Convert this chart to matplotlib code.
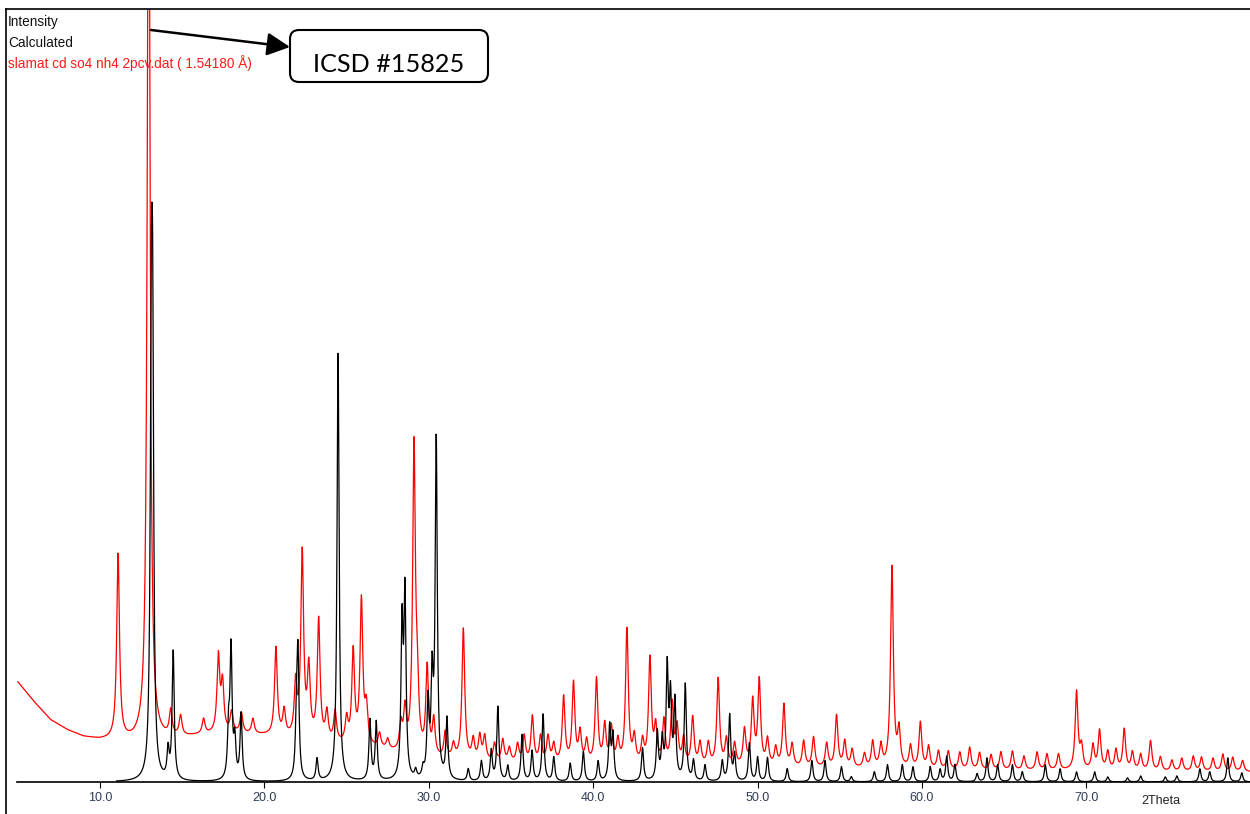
import numpy as np
import matplotlib
matplotlib.use('Agg')
import matplotlib.pyplot as plt
from matplotlib.patches import FancyBboxPatch, FancyArrowPatch

# peak positions (2theta) and heights
calc_pos = [13.12, 13.2, 14.14, 14.45, 17.82, 17.97, 18.2, 18.58, 21.95, 22.04,
            23.2, 24.48, 26.42, 26.8, 28.37, 28.55, 29.2, 29.65, 29.95, 30.2,
            30.45, 31.1, 32.4, 33.2, 33.8, 34.2, 34.8, 35.67, 36.28, 36.95,
            37.6, 38.6, 39.4, 40.3, 41.0, 41.2, 43.0, 43.9, 44.2, 44.5,
            44.7, 44.97, 45.6, 46.1, 46.8, 47.85, 48.3, 48.6, 49.5, 50.0,
            50.6, 51.8, 53.3, 54.1, 55.1, 55.7, 57.1, 57.9, 58.8, 59.45,
            60.5, 61.1, 61.5, 62.0, 63.35, 63.95, 64.6, 65.5, 66.1, 67.5,
            68.4, 69.4, 70.5, 71.3, 72.5, 73.3, 74.8, 75.5, 76.9, 77.5,
            78.6, 79.45]
calc_int = [368, 376, 28, 130, 48, 130, 38, 66, 48, 122,
            22, 428, 60, 58, 150, 182, 8, 9, 75, 95,
            342, 60, 12, 20, 30, 74, 15, 47, 30, 68,
            24, 18, 30, 20, 54, 45, 33, 48, 38, 110,
            80, 78, 96, 20, 16, 20, 66, 26, 38, 24,
            24, 13, 21, 21, 15, 5, 10, 17, 17, 15,
            15, 12, 25, 17, 8, 24, 17, 17, 10, 17,
            13, 10, 10, 5, 4, 6, 5, 6, 13, 10,
            24, 9]

meas_pos = [11.1, 12.96, 14.3, 14.9, 16.3, 17.2, 17.45, 18.0, 18.6, 19.3,
            20.7, 21.2, 21.9, 22.3, 22.7, 23.3, 23.8, 24.3, 25.0, 25.4,
            25.9, 26.2, 27.0, 27.5, 28.3, 28.55, 29.1, 29.3, 29.9, 30.3,
            31.0, 31.5, 32.1, 32.7, 33.1, 33.4, 34.0, 34.5, 34.9, 35.4,
            35.8, 36.3, 36.8, 37.25, 37.6, 38.2, 38.8, 39.2, 39.6, 40.2,
            40.7, 41.1, 41.5, 42.05, 42.5, 43.0, 43.45, 43.8, 44.3, 44.8,
            45.1, 45.5, 46.05, 46.5, 47.0, 47.6, 48.1, 48.6, 49.2, 49.7,
            50.1, 50.6, 51.1, 51.6, 52.1, 52.8, 53.4, 54.2, 54.8, 55.3,
            55.75, 56.5, 57.0, 57.5, 58.17, 58.6, 59.3, 59.9, 60.4, 61.0,
            61.6, 62.3, 62.9, 63.5, 64.2, 64.8, 65.5, 66.2, 67.0, 67.6,
            68.3, 69.4, 69.7, 70.4, 70.8, 71.3, 71.8, 72.3, 72.8, 73.3,
            73.9, 74.5, 75.2, 75.8, 76.5, 77.0, 77.7, 78.3, 78.9, 79.5]
meas_int = [185, 1000, 25, 20, 15, 76, 48, 20, 20, 15,
            88, 25, 52, 184, 68, 120, 28, 30, 24, 92,
            144, 36, 14, 10, 26, 40, 306, 52, 88, 36,
            26, 14, 131, 20, 24, 24, 18, 22, 14, 18,
            26, 46, 26, 26, 18, 66, 80, 30, 22, 85,
            38, 36, 22, 136, 26, 22, 106, 36, 43, 60,
            36, 26, 48, 22, 22, 87, 26, 22, 36, 64,
            85, 26, 18, 62, 22, 26, 30, 24, 52, 26,
            18, 14, 26, 22, 203, 36, 22, 46, 22, 18,
            18, 17, 22, 17, 15, 18, 19, 14, 18, 16,
            16, 78, 22, 24, 39, 18, 20, 41, 18, 16,
            30, 14, 11, 13, 15, 14, 13, 17, 14, 11]

# measured background level at a few angles
bg_pos = [5, 6, 7, 8, 9, 10, 12, 14, 16, 18, 20, 22, 25, 27, 28, 30,
          35, 40, 45, 50, 55, 60, 65, 70, 75, 80]
bg_int = [100, 80, 62, 52, 45, 42, 40, 42, 46, 48, 46, 42, 36, 32, 28, 22,
          18, 16, 15, 14, 13, 12, 11, 11, 10, 10]

ticks = [10, 20, 30, 40, 50, 60, 70]


def profile(x, pos, amp, hw):
    p = np.asarray(pos)[:, None]
    a = np.asarray(amp)[:, None]
    return (a * hw**2 / (hw**2 + (x[None, :] - p)**2)).sum(axis=0)


tt_calc = np.arange(11.0, 80.0, 0.02)
tt_meas = np.arange(5.0, 80.0, 0.02)
y_calc = profile(tt_calc, calc_pos, calc_int, 0.075)
y_meas = np.interp(tt_meas, bg_pos, bg_int) + profile(tt_meas, meas_pos, meas_int, 0.1)

W, H = 1250, 814
fig = plt.figure(figsize=(W / 100, H / 100), dpi=100)
ax = fig.add_axes([17 / W, 32 / H, 1233 / W, 773 / H])

ax.plot(tt_meas, y_meas, color='#ff0000', lw=0.9)
ax.plot(tt_calc, y_calc, color='black', lw=0.9)

ax.set_xlim(4.95, 79.95)
ax.set_ylim(0, 773)
ax.set_yticks([])
ax.set_xticks(ticks)
ax.set_xticklabels(['%.1f' % t for t in ticks], family='Liberation Sans',
                   fontsize=9, color='#2f3b55')
ax.tick_params(axis='x', direction='out', length=4, width=0.8, pad=3)
for s in ['left', 'top', 'right']:
    ax.spines[s].set_visible(False)
ax.spines['bottom'].set_linewidth(1.2)

# labels and frame drawn in pixel space over the whole figure
ov = fig.add_axes([0, 0, 1, 1], facecolor='none')
ov.set_xlim(0, W)
ov.set_ylim(H, 0)
ov.axis('off')
ov.plot([6, 6], [9, H], color='black', lw=1.2)
ov.plot([6, W], [9, 9], color='black', lw=1.2)

ov.text(8, 22, 'Intensity', fontsize=9.8, family='Liberation Sans', va='center', color='#111111')
ov.text(8, 43, 'Calculated', fontsize=9.8, family='Liberation Sans', va='center', color='#111111')
ov.text(8, 63, 'slamat cd so4 nh4 2pcv.dat ( 1.54180 Å)', fontsize=9.8,
        family='Liberation Sans', va='center', color='#ff1a1a')
ov.text(1141, 801, '2Theta', fontsize=9, family='Liberation Sans', va='center', color='#222222')

box = FancyBboxPatch((290, 30), 198, 52, boxstyle='round,pad=0,rounding_size=9',
                     lw=1.5, ec='black', fc='white')
ov.add_patch(box)
ov.text(389, 72, 'ICSD #15825', fontsize=18.2, family='Lato', ha='center', va='baseline')
arrow = FancyArrowPatch((151, 30), (290, 47), arrowstyle='-|>,head_length=0.7,head_width=0.35',
                        mutation_scale=20, lw=1.8, color='black', shrinkA=0, shrinkB=0)
ov.add_patch(arrow)

fig.savefig('out.png', dpi=100)
